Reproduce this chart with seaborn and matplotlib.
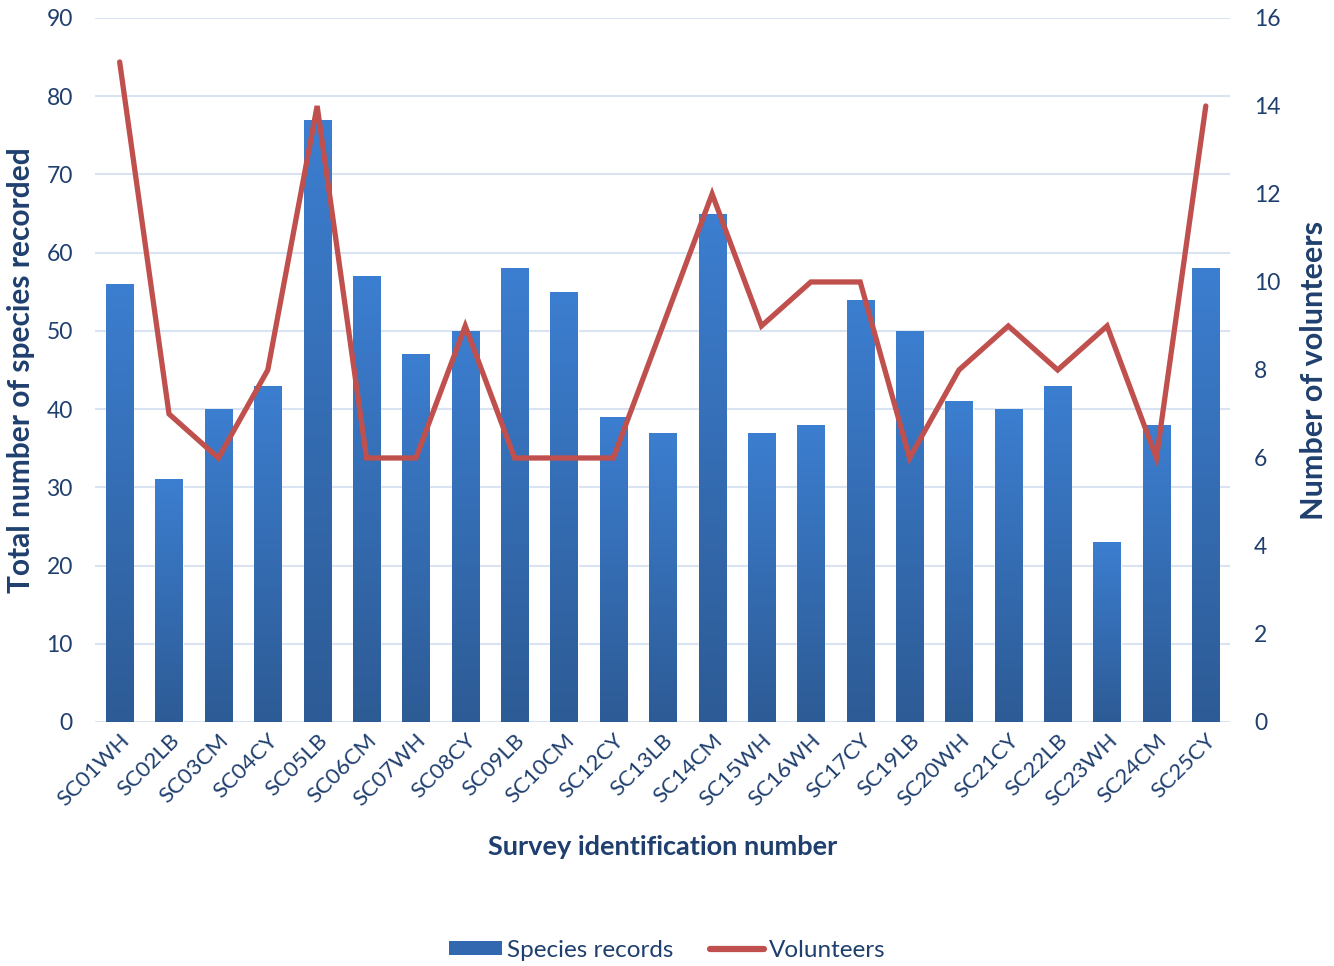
import numpy as np
import matplotlib
matplotlib.use("Agg")
import matplotlib.pyplot as plt
from matplotlib.colors import LinearSegmentedColormap
from matplotlib.patches import Patch
from matplotlib.lines import Line2D
import seaborn as sns

SITES = [
    "SC01WH", "SC02LB", "SC03CM", "SC04CY", "SC05LB", "SC06CM", "SC07WH",
    "SC08CY", "SC09LB", "SC10CM", "SC12CY", "SC13LB", "SC14CM", "SC15WH",
    "SC16WH", "SC17CY", "SC19LB", "SC20WH", "SC21CY", "SC22LB", "SC23WH",
    "SC24CM", "SC25CY"
]
species = [56, 31, 40, 43, 77, 57, 47, 50, 58, 55, 39, 37, 65, 37,
           38, 54, 50, 41, 40, 43, 23, 38, 58]
volunteers = [15, 7, 6, 8, 14, 6, 6, 9, 6, 6, 6, 9, 12, 9,
              10, 10, 6, 8, 9, 8, 9, 6, 14]

TEXT = "#1F3F6E"
GRID = "#D9E3F1"
LINE = "#C0504D"

sns.set_theme(style="white")
plt.rcParams["font.family"] = ["Lato", "DejaVu Sans"]

fig = plt.figure(figsize=(13.34, 9.66), dpi=100)
ax = fig.add_axes([0.0712, 0.2526, 0.8512, 0.7288])

sns.barplot(x=SITES, y=species, color="#3570BA", width=0.55, ax=ax,
            saturation=1, zorder=2)

# vertical gradient inside each bar
cmap = LinearSegmentedColormap.from_list("bar", ["#2D5B95", "#3C7ED0"])
grad = np.linspace(0, 1, 256).reshape(-1, 1)
for p in ax.patches:
    x0, y0 = p.get_x(), p.get_y()
    w, h = p.get_width(), p.get_height()
    im = ax.imshow(grad, cmap=cmap, aspect="auto", origin="lower",
                   extent=[x0, x0 + w, y0, y0 + h], zorder=3)
    im.set_clip_path(p)

ax.set_xlim(-0.5, len(SITES) - 0.5)
ax.set_ylim(0, 90)
ax.set_yticks(range(0, 91, 10))
ax.yaxis.grid(True, color=GRID, lw=1.5)
ax.set_axisbelow(True)
for s in ax.spines.values():
    s.set_visible(False)
ax.axhline(0, color=GRID, lw=2, zorder=1)

ax.tick_params(axis="y", labelsize=16.5, labelcolor=TEXT, length=0, pad=16)
ax.tick_params(axis="x", labelsize=16, labelcolor=TEXT, length=0, pad=6)
plt.setp(ax.get_xticklabels(), rotation=45, ha="right", rotation_mode="anchor")
ax.set_ylabel("Total number of species recorded", fontsize=21.5,
              fontweight="bold", color=TEXT, labelpad=8)
ax.set_xlabel("Survey identification number", fontsize=19.5,
              fontweight="bold", color=TEXT, labelpad=18)

ax2 = ax.twinx()
sns.lineplot(x=np.arange(len(SITES)), y=volunteers, color=LINE, lw=3.8,
             ax=ax2, zorder=5, solid_capstyle="round", solid_joinstyle="miter")
ax2.set_ylim(0, 16)
ax2.set_yticks(range(0, 17, 2))
for s in ax2.spines.values():
    s.set_visible(False)
ax2.tick_params(axis="y", labelsize=16.5, labelcolor=TEXT, length=0, pad=17)
ax2.set_ylabel("Number of volunteers", fontsize=22, fontweight="bold",
               color=TEXT, labelpad=14)
ax2.grid(False)

handles = [Patch(facecolor="#3268B0", edgecolor="none"),
           Line2D([0], [0], color=LINE, lw=4.5, solid_capstyle="round")]
fig.legend(handles, ["Species records", "Volunteers"], loc="lower center",
           bbox_to_anchor=(0.5, -0.017), ncol=2, frameon=False, fontsize=17.5,
           labelcolor=TEXT, handlelength=2.2, handleheight=0.55,
           handletextpad=0.2, columnspacing=1.5)

fig.savefig("out.png", dpi=100)
